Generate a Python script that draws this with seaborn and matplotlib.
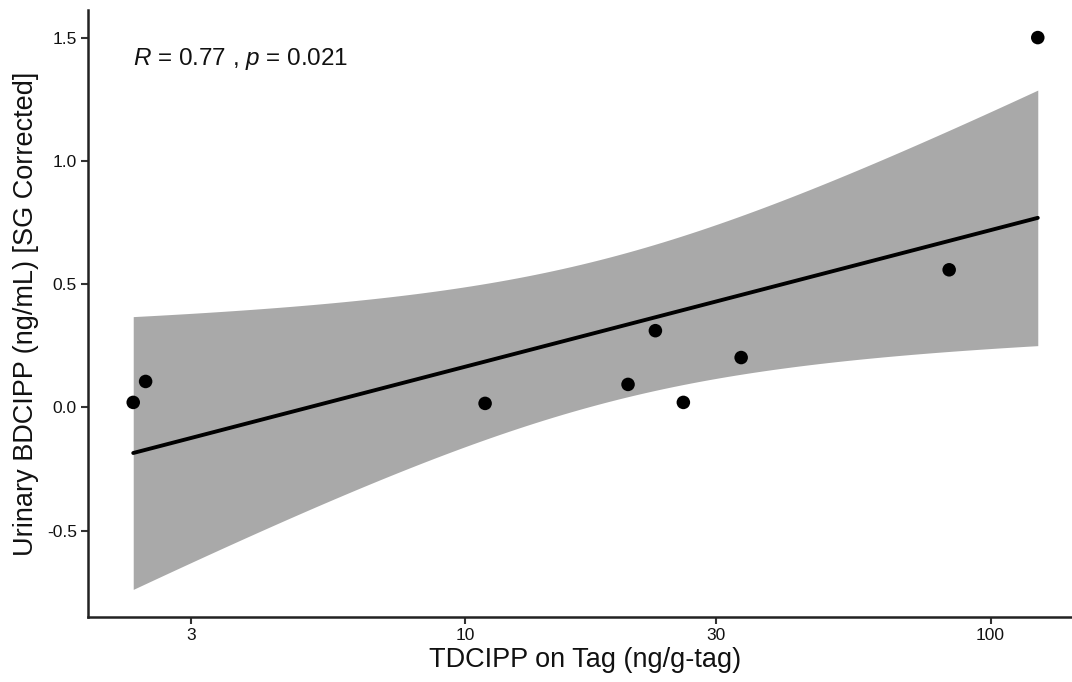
import numpy as np
import pandas as pd
import seaborn as sns
import matplotlib.pyplot as plt

# values
tdcipp = [2.33, 2.46, 10.9, 20.4, 23.0, 26.0, 33.5, 83.4, 123.0]
bdcipp = [0.020, 0.105, 0.016, 0.093, 0.311, 0.020, 0.202, 0.558, 1.500]
x_ticks = [3, 10, 30, 100]
y_ticks = [-0.5, 0.0, 0.5, 1.0, 1.5]
stat_label = r"$\it{R}$ = 0.77 , $\it{p}$ = 0.021"

sns.set_style("ticks")
plt.rcParams['font.family'] = ['Liberation Sans', 'DejaVu Sans']
plt.rcParams['mathtext.fontset'] = 'custom'
plt.rcParams['mathtext.rm'] = 'Liberation Sans'
plt.rcParams['mathtext.it'] = 'Liberation Sans:italic'

df = pd.DataFrame({'x': tdcipp, 'y': bdcipp})
lx = np.log10(df['x'].values)
y = df['y'].values
n = len(y)

# linear fit on log10(x) with 95% confidence band (t, df=7)
slope, icpt = np.polyfit(lx, y, 1)
resid = y - (icpt + slope * lx)
s = np.sqrt(np.sum(resid ** 2) / (n - 2))
tcrit = 2.3646
gx = np.linspace(lx.min(), lx.max(), 100)
gy = icpt + slope * gx
se = s * np.sqrt(1 / n + (gx - lx.mean()) ** 2 / np.sum((lx - lx.mean()) ** 2))

fig = plt.figure(figsize=(10.72, 6.82), dpi=100)
ax = fig.add_axes([88 / 1072, 65 / 682, 995 / 1072, 607 / 682])

ax.fill_between(10 ** gx, gy - tcrit * se, gy + tcrit * se, color='#a9a9a9', lw=0, zorder=1)
ax.plot(10 ** gx, gy, color='black', lw=2.8, zorder=2)
sns.scatterplot(data=df, x='x', y='y', ax=ax, color='black', s=95, edgecolor='none', zorder=3)

ax.set_xscale('log')
xr = lx.max() - lx.min()
ax.set_xlim(10 ** (lx.min() - 0.05 * xr), 10 ** (lx.max() + 0.05 * xr))
ylo = min(y.min(), (gy - tcrit * se).min())
yhi = max(y.max(), (gy + tcrit * se).max())
yr = yhi - ylo
ax.set_ylim(ylo - 0.05 * yr, yhi + 0.05 * yr)

ax.set_xticks(x_ticks)
ax.set_xticklabels([str(t) for t in x_ticks])
ax.xaxis.set_minor_locator(plt.NullLocator())
ax.set_yticks(y_ticks)
ax.set_yticklabels([f"{t:.1f}" for t in y_ticks])
ax.tick_params(axis='both', labelsize=12.5, length=5, width=1.5, color='#333333',
               labelcolor='#111111', direction='out', pad=3)

for sp in ['top', 'right']:
    ax.spines[sp].set_visible(False)
for sp in ['left', 'bottom']:
    ax.spines[sp].set_linewidth(1.8)
    ax.spines[sp].set_color('#222222')

ax.set_xlabel("TDCIPP on Tag (ng/g-tag)", fontsize=19.5, color='#111111', labelpad=3)
ax.set_ylabel("Urinary BDCIPP (ng/mL) [SG Corrected]", fontsize=19.5, color='#111111', labelpad=6)
ax.text(min(tdcipp), 1.414, stat_label, fontsize=17.5, va='center', ha='left', color='#111111')

fig.savefig('out.png', dpi=100)
